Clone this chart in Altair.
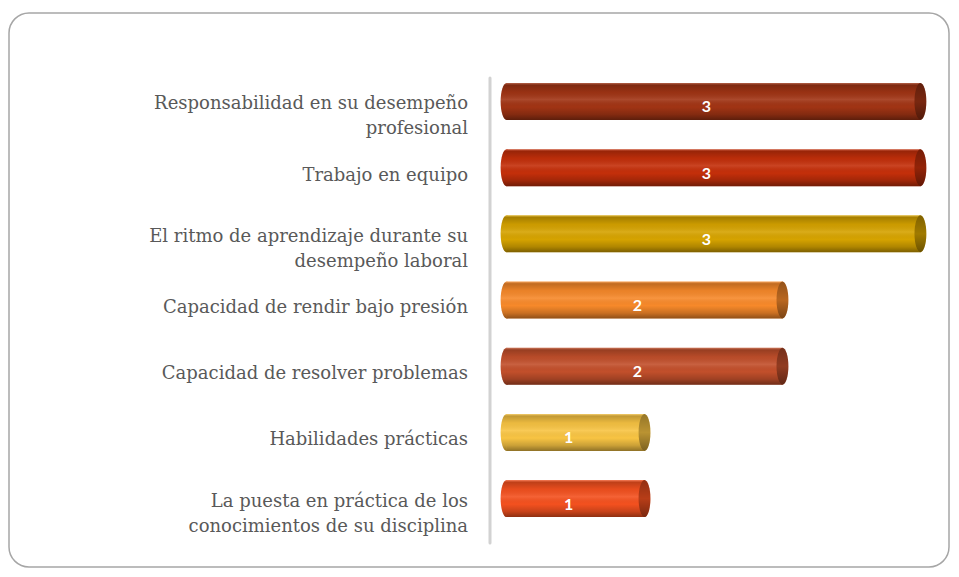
import altair as alt
import pandas as pd

# ---- data ----
categories = [
    "Responsabilidad en su desempeño\nprofesional",
    "Trabajo en equipo",
    "El ritmo de aprendizaje durante su\ndesempeño laboral",
    "Capacidad de rendir bajo presión",
    "Capacidad de resolver problemas",
    "Habilidades prácticas",
    "La puesta en práctica de los\nconocimientos de su disciplina",
]
values = [3, 3, 3, 2, 2, 1, 1]
colors = ["#A13414", "#C42F0A", "#D6A300", "#F7892A", "#C24F2B", "#F8C443", "#F4511F"]

df = pd.DataFrame({"cat": categories, "value": values, "zero": [0] * len(values)})

# ---- styles ----
ELLIPSE = "M0,-1A0.32,1 0 1,1 0,1A0.32,1 0 1,1 0,-1Z"
CAP_SIZE = 37 * 37
LABEL_FONT = "DejaVu Serif"

shade = alt.Gradient(
    gradient="linear", x1=0, x2=0, y1=0, y2=1,
    stops=[
        alt.GradientStop(color="rgba(255,255,255,0.25)", offset=0),
        alt.GradientStop(color="rgba(0,0,0,0.22)", offset=0.06),
        alt.GradientStop(color="rgba(0,0,0,0.05)", offset=0.25),
        alt.GradientStop(color="rgba(255,255,255,0.10)", offset=0.45),
        alt.GradientStop(color="rgba(0,0,0,0.0)", offset=0.65),
        alt.GradientStop(color="rgba(0,0,0,0.18)", offset=0.85),
        alt.GradientStop(color="rgba(0,0,0,0.42)", offset=1),
    ],
)
cap_shade = alt.Gradient(
    gradient="linear", x1=0, x2=0, y1=0, y2=1,
    stops=[
        alt.GradientStop(color="rgba(0,0,0,0.40)", offset=0),
        alt.GradientStop(color="rgba(0,0,0,0.25)", offset=0.5),
        alt.GradientStop(color="rgba(0,0,0,0.50)", offset=1),
    ],
)

xscale = alt.Scale(domain=[-0.12, 3.2], nice=False, zero=False)
yscale = alt.Scale(domain=categories, paddingInner=0.441, paddingOuter=0.233, align=0.16)
y_plain = alt.Y("cat:N", sort=categories, scale=yscale, axis=None)
color_enc = alt.Color("cat:N", scale=alt.Scale(domain=categories, range=colors), legend=None)

base = alt.Chart(df)
one = alt.Chart(pd.DataFrame({"k": [0]}))

frame = one.mark_rect(
    fill="white", stroke="#a6a6a6", strokeWidth=1.5, cornerRadius=20
).encode(x=alt.value(-481), x2=alt.value(459), y=alt.value(-65), y2=alt.value(489))

axis_line = one.mark_rule(color="#d2d2d2", strokeWidth=3, strokeCap="round").encode(
    x=alt.value(0), y=alt.value(0), y2=alt.value(465)
)

left_cap = base.mark_point(shape=ELLIPSE, size=CAP_SIZE, filled=True, opacity=1).encode(
    x=alt.X("zero:Q", scale=xscale, axis=None), y=y_plain, color=color_enc
)
left_cap_shade = base.mark_point(shape=ELLIPSE, size=CAP_SIZE, filled=True, opacity=1, fill=shade).encode(
    x=alt.X("zero:Q", scale=xscale, axis=None), y=y_plain
)
bars = base.mark_bar().encode(
    x=alt.X("value:Q", scale=xscale, axis=None), x2=alt.X2("zero:Q"), y=y_plain, color=color_enc
)
bars_shade = base.mark_bar(fill=shade).encode(
    x=alt.X("value:Q", scale=xscale, axis=None), x2=alt.X2("zero:Q"), y=y_plain
)
right_cap = base.mark_point(shape=ELLIPSE, size=CAP_SIZE, filled=True, opacity=1).encode(
    x=alt.X("value:Q", scale=xscale, axis=None), y=y_plain, color=color_enc
)
right_cap_shade = base.mark_point(shape=ELLIPSE, size=CAP_SIZE, filled=True, opacity=1, fill=cap_shade).encode(
    x=alt.X("value:Q", scale=xscale, axis=None), y=y_plain
)
value_labels = base.transform_calculate(mid="datum.value / 2").mark_text(
    font="Lato", fontWeight="bold", fontSize=16, color="white", dx=-7, dy=6, baseline="middle"
).encode(x=alt.X("mid:Q", scale=xscale, axis=None), y=y_plain, text="value:Q")

label_single = base.transform_filter("indexof(datum.cat, '\\n') < 0").mark_text(
    align="right", baseline="middle", font=LABEL_FONT, fontSize=18,
    color="#595959", dy=8
).encode(x=alt.value(-22), y=y_plain, text="cat:N")
label_multi = base.transform_filter("indexof(datum.cat, '\\n') >= 0").mark_text(
    align="right", baseline="middle", font=LABEL_FONT, fontSize=18,
    color="#595959", dy=3, lineBreak="\n", lineHeight=25
).encode(x=alt.value(-22), y=y_plain, text="cat:N")

chart = alt.layer(
    frame, axis_line, left_cap, left_cap_shade, bars, bars_shade, right_cap, right_cap_shade,
    value_labels, label_single, label_multi,
).properties(
    width=458, height=465,
    padding={"left": 482, "top": 70, "right": 3, "bottom": 26},
    autosize=alt.AutoSizeParams(type="none"),
).configure_view(stroke=None)

chart.save("out.html", embed_options={"renderer": "svg", "actions": False})
